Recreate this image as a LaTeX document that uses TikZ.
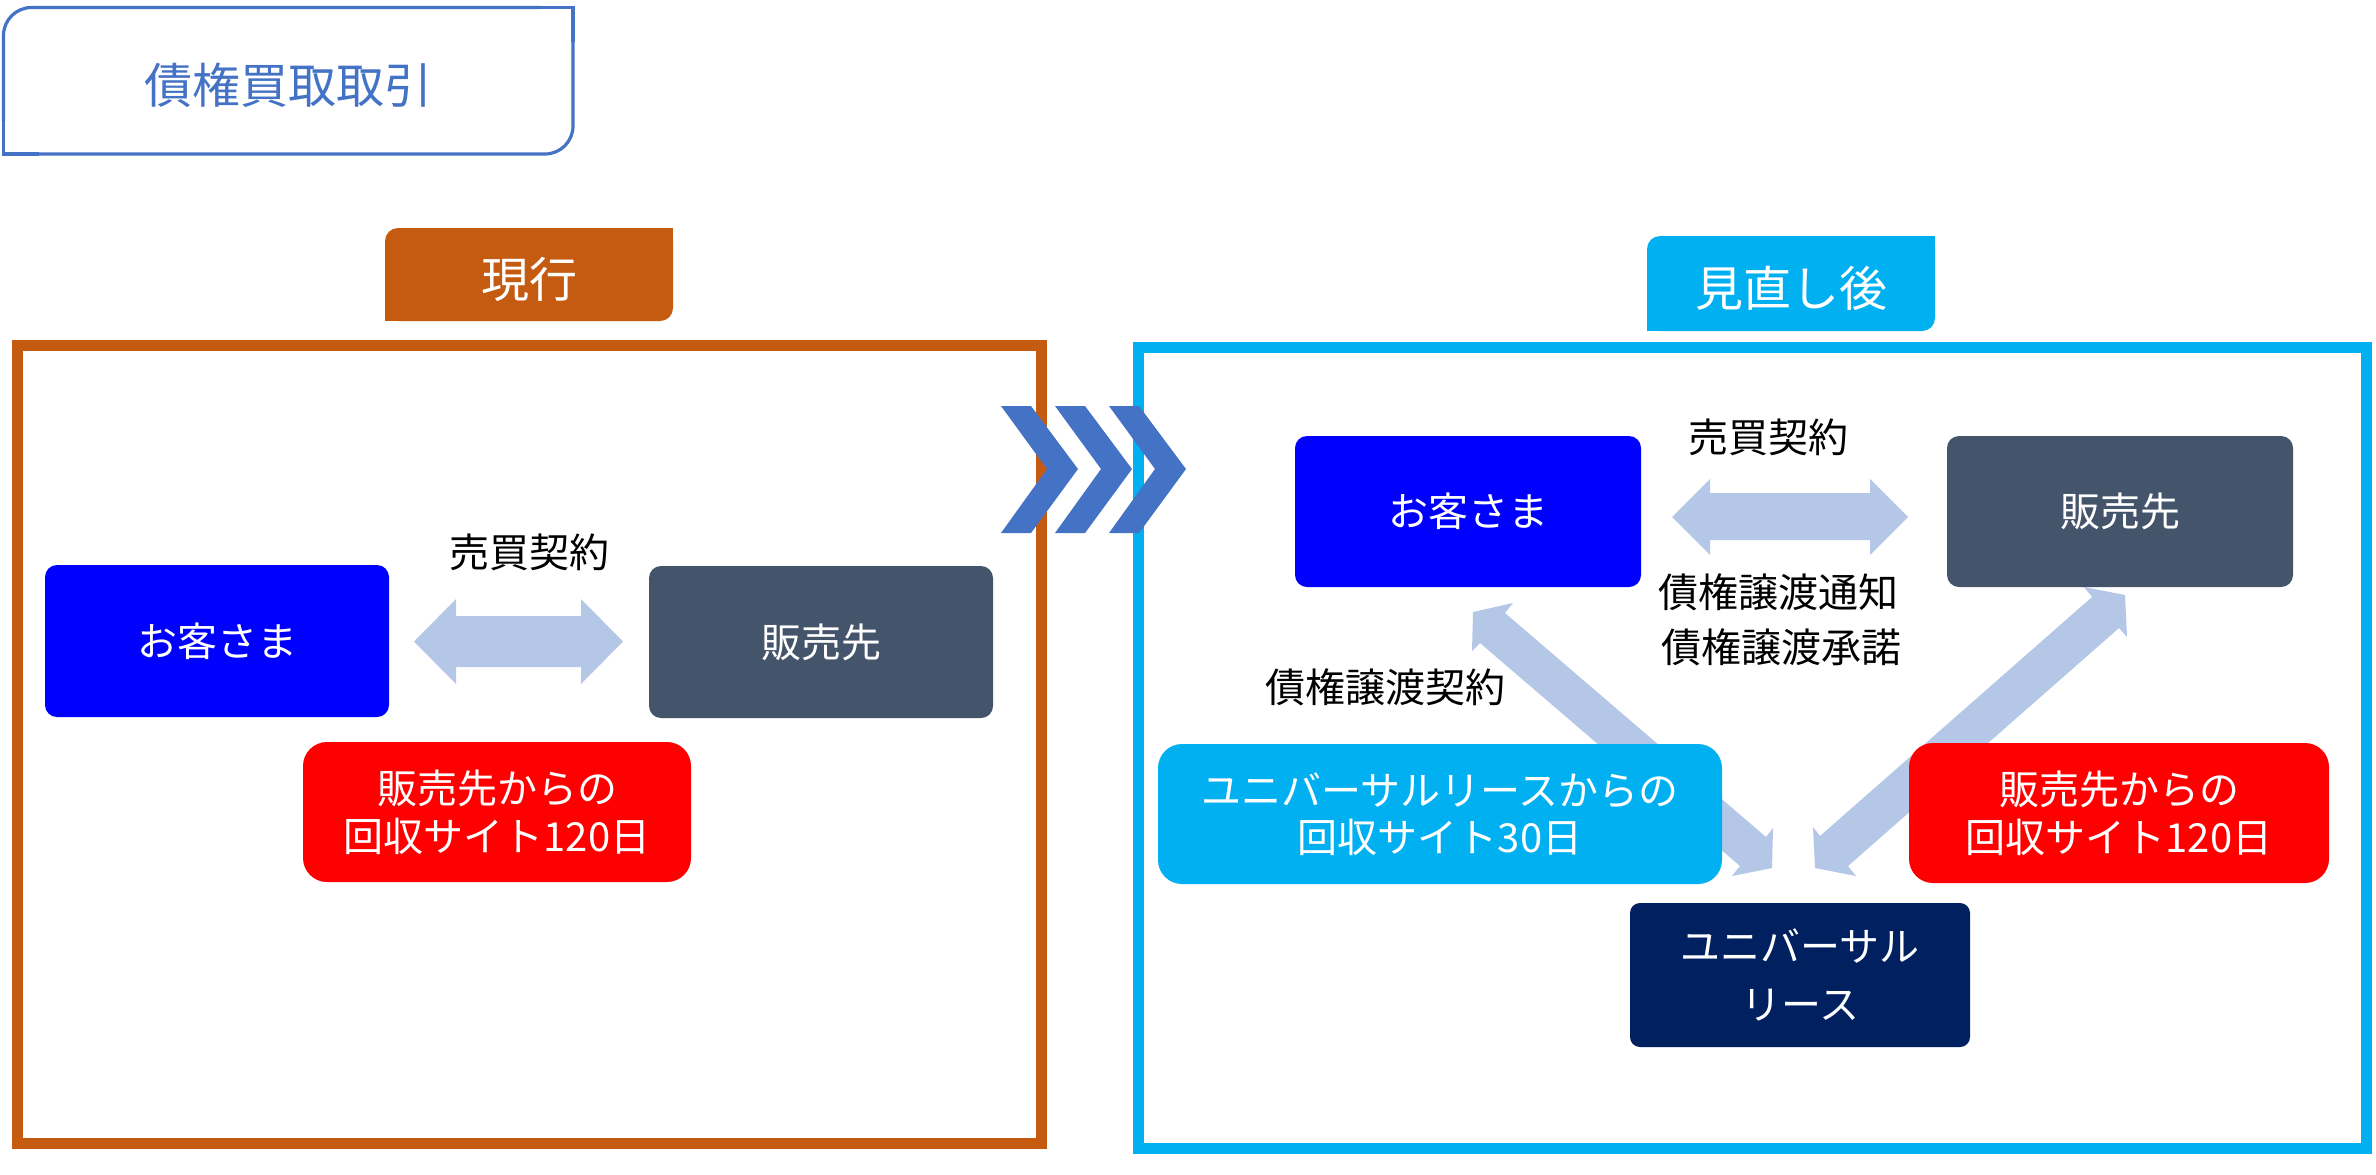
\documentclass[tikz,border=0pt]{standalone}
\usepackage{fontspec}
\setmainfont{Noto Sans CJK JP}
\definecolor{titleC}{HTML}{4472C4}
\definecolor{orangeC}{HTML}{C55A11}
\definecolor{cyanC}{HTML}{00B0F0}
\definecolor{arrowC}{HTML}{B4C7E7}
\definecolor{grayC}{HTML}{44546A}
\definecolor{navyC}{HTML}{002060}
\definecolor{blueC}{HTML}{0000FF}
\definecolor{redC}{HTML}{FF0000}
\begin{document}
\begin{tikzpicture}[x=0.5pt,y=-0.5pt,
  box/.style={rounded corners=6pt, inner sep=0pt, text=white, align=center,
    font=\fontsize{20pt}{24pt}\selectfont},
  lbl/.style={inner sep=0pt, text=black, font=\fontsize{20pt}{24pt}\selectfont},
  tablbl/.style={inner sep=0pt, text=white, font=\fontsize{24pt}{28pt}\selectfont},
  blockarrow/.style={fill=arrowC},
  chev/.style={fill=titleC}]
\useasboundingbox (0,0) rectangle (2376,1174);
\fill[white] (0,0) rectangle (2376,1174);

% title box (rounded top-left and bottom-right)
\draw[titleC, line width=1.6pt, rounded corners=14pt] (3.5,7.5) rectangle (573,154);
\fill[white] (541,3) rectangle (577,40);
\fill[white] (0,121) rectangle (37,158);
\draw[titleC, line width=1.6pt] (539,7.5) -- (573,7.5) -- (573,42);
\draw[titleC, line width=1.6pt] (3.5,119) -- (3.5,154) -- (39,154);
\node[inner sep=0pt, text=titleC, font=\fontsize{24pt}{28pt}\selectfont] (title) at (288,85) {債権買取取引};

% frames
\draw[orangeC, line width=5.5pt] (17,345) rectangle (1041,1143);
\draw[cyanC, line width=5.5pt] (1138,347) rectangle (2366,1148);

% tabs
\fill[orangeC, rounded corners=6.5pt] (385,228) rectangle (673,321);
\fill[orangeC] (650,228) rectangle (673,250);
\fill[orangeC] (385,299) rectangle (407,321);
\node[tablbl] (tabnow) at (529,279) {現行};
\fill[cyanC, rounded corners=6.5pt] (1647,236) rectangle (1935,331);
\fill[cyanC] (1912,236) rectangle (1935,258);
\fill[cyanC] (1647,309) rectangle (1669,331);
\node[tablbl] (tabnew) at (1791,288) {見直し後};

% ---------- left panel ----------
\fill[blockarrow] (414,641.5) -- (456,599) -- (456,616) -- (581,616) -- (581,599) -- (623,641.5)
  -- (581,684) -- (581,667) -- (456,667) -- (456,684) -- cycle;
\node[box, fill=blueC, minimum width=172pt, minimum height=76pt] (cusL) at (217,641) {お客さま};
\node[box, fill=grayC, minimum width=172pt, minimum height=76pt] (venL) at (821,642) {販売先};
\node[lbl] (saleL) at (529,552) {売買契約};
\node[box, rounded corners=12pt, fill=redC, minimum width=194pt, minimum height=70pt] (siteL) at (497,812) {販売先からの\\回収サイト120日};

% ---------- right panel ----------
\fill[blockarrow] (1513,603) -- (1473,612) -- (1472,651) -- (1480,643) -- (1740,866) -- (1732,876)
  -- (1772,868) -- (1773,828) -- (1766,837) -- (1505,613) -- cycle;
\fill[blockarrow] (2084,587) -- (2125,595) -- (2127,637) -- (2119,628) -- (1848,866) -- (1856,876)
  -- (1815,868) -- (1813,827) -- (1820,836) -- (2092,597) -- cycle;
\fill[blockarrow] (1672,517) -- (1710,479) -- (1710,493) -- (1870,493) -- (1870,479) -- (1908,517)
  -- (1870,555) -- (1870,540) -- (1710,540) -- (1710,555) -- cycle;

\node[box, fill=blueC, minimum width=173pt, minimum height=75.5pt] (cusR) at (1468,511.5) {お客さま};
\node[box, fill=grayC, minimum width=173pt, minimum height=75.5pt] (venR) at (2120,511.5) {販売先};
\node[lbl] (saleR) at (1768,437) {売買契約};
\node[lbl] (notice) at (1778,592) {債権譲渡通知};
\node[lbl] (consent) at (1781,647) {債権譲渡承諾};
\node[lbl] (assign) at (1385,687) {債権譲渡契約};
\node[box, rounded corners=12pt, fill=cyanC, minimum width=282pt, minimum height=70pt,
  font=\fontsize{20pt}{23.5pt}\selectfont] (siteUL) at (1440,814) {ユニバーサルリースからの\\回収サイト30日};
\node[box, rounded corners=12pt, fill=redC, minimum width=210pt, minimum height=70pt] (siteR) at (2119,813) {販売先からの\\回収サイト120日};
\node[box, rounded corners=5pt, fill=navyC, minimum width=170pt, minimum height=72pt,
  font=\fontsize{20pt}{29pt}\selectfont] (ul) at (1800,975) {ユニバーサル\\リース};

% chevrons
\foreach \d in {0,54,108}{
  \fill[chev] ({1001+\d},406) -- ({1031+\d},406) -- ({1078+\d},469) -- ({1031+\d},533)
    -- ({1001+\d},533) -- ({1047+\d},469) -- cycle;
}
\end{tikzpicture}
\end{document}
